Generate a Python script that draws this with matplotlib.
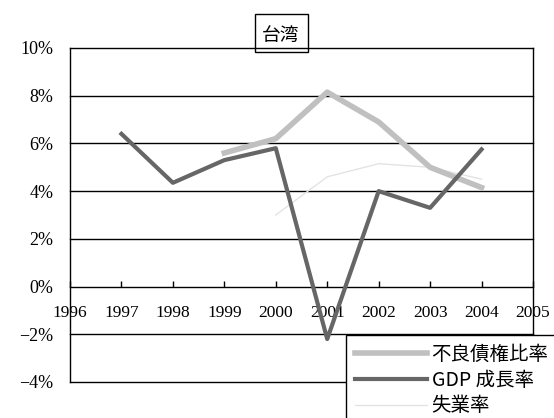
import matplotlib
matplotlib.use('Agg')
import matplotlib.pyplot as plt
from matplotlib.patches import Rectangle

# データ
years_gdp = [1997, 1998, 1999, 2000, 2001, 2002, 2003, 2004]
gdp_growth = [6.4, 4.35, 5.3, 5.8, -2.2, 4.0, 3.3, 5.75]

years_npl = [1999, 2000, 2001, 2002, 2003, 2004]
npl_ratio = [5.6, 6.2, 8.15, 6.9, 5.0, 4.15]

years_unemp = [2000, 2001, 2002, 2003, 2004]
unemp_rate = [3.0, 4.6, 5.15, 5.0, 4.5]

year_ticks = list(range(1996, 2006))
y_ticks = [-4, -2, 0, 2, 4, 6, 8, 10]
y_labels = ['−4%', '−2%', '0%', '2%', '4%', '6%', '8%', '10%']

serif = ['Liberation Serif', 'Noto Sans CJK JP', 'DejaVu Serif']
cjk = ['Noto Sans CJK JP', 'Liberation Serif', 'DejaVu Sans']

W, H = 554, 418
fig = plt.figure(figsize=(W / 100, H / 100), dpi=100)
ax = fig.add_axes([70 / W, 1 - 382 / H, 463 / W, 334 / H])

ax.plot(years_npl, npl_ratio, color='#c0c0c0', lw=4.0, label='不良債権比率', zorder=3)
ax.plot(years_gdp, gdp_growth, color='#666666', lw=3.0, label='GDP 成長率', zorder=4)
ax.plot(years_unemp, unemp_rate, color='#e3e3e3', lw=1.0, label='失業率', zorder=2)

ax.set_xlim(1996, 2005)
ax.set_ylim(-4, 10)

# 横の罫線
for v in [-4, -2, 2, 4, 6, 8]:
    ax.axhline(v, color='black', lw=1.0, zorder=1, clip_on=False)

# x軸は0%の位置
ax.spines['bottom'].set_position(('data', 0))
for s in ax.spines.values():
    s.set_linewidth(1.0)

ax.set_xticks(year_ticks)
ax.set_xticklabels([str(y) for y in year_ticks], fontfamily=serif, fontsize=12.5)
ax.tick_params(axis='x', direction='in', length=4, width=1, pad=13)
ax.set_yticks(y_ticks)
ax.set_yticklabels(y_labels, fontfamily=serif, fontsize=13)
ax.tick_params(axis='y', length=0, pad=12)

# タイトル（枠付き）
fig.text(281 / W, 1 - 35 / H, '台湾', ha='center', va='center',
         fontsize=13.5, fontfamily=cjk)
fig.patches.append(Rectangle((255 / W, 1 - 52 / H), 53 / W, 38 / H,
                             transform=fig.transFigure, fill=False,
                             edgecolor='black', lw=1.0))

leg = fig.legend(loc='upper left', bbox_to_anchor=(346 / W, 1 - 335 / H),
                 frameon=True, fancybox=False, edgecolor='black', framealpha=1,
                 borderaxespad=0, borderpad=0.45, handlelength=3.7, handletextpad=0.25,
                 labelspacing=0.25, prop={'family': cjk, 'size': 14})
leg.get_frame().set_linewidth(1.0)

fig.savefig('out.png', dpi=100)
